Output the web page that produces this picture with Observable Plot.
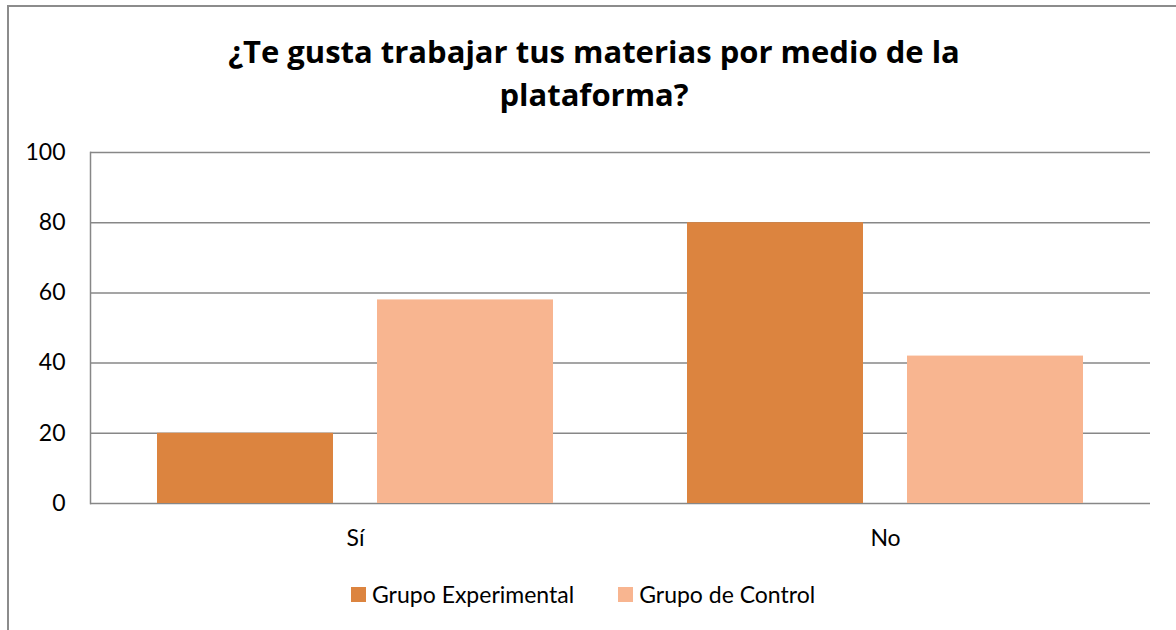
<!DOCTYPE html>
<html>
<head>
<meta charset="utf-8">
<script src="https://cdn.jsdelivr.net/npm/d3@7"></script>
<script src="https://cdn.jsdelivr.net/npm/@observablehq/plot@0.6"></script>
<style>
  html, body { margin: 0; padding: 0; background: #fff; }
  #wrap { position: relative; width: 1176px; height: 630px; overflow: hidden; font-family: Lato, "Open Sans", sans-serif; color: #000; }
  #border { position: absolute; left: 7px; top: 5px; width: 1300px; height: 800px; border-left: 2px solid #8c8c8c; border-top: 2px solid #8c8c8c; }
  #title { position: absolute; left: 0; width: 1188px; top: 30px; text-align: center; font-family: "Open Sans", sans-serif; font-weight: bold; font-size: 31px; line-height: 43px; }
  #chart { position: absolute; left: 0; top: 130px; }
  #legend { position: absolute; top: 580px; left: 351px; display: flex; align-items: center; font-size: 23px; }
  .sw { width: 15px; height: 15px; display: inline-block; margin-right: 6px; }
  .item { display: flex; align-items: center; margin-right: 44px; }
</style>
</head>
<body>
<div id="wrap">
  <div id="border"></div>
  <div id="title"></div>
  <div id="chart"></div>
  <div id="legend"></div>
</div>
<script>
const titleLines = ["¿Te gusta trabajar tus materias por medio de la", "plataforma?"];
const categories = ["Sí", "No"];
const series = ["Grupo Experimental", "Grupo de Control"];
const experimental = [20, 80];
const control = [58, 42];
const yTicks = [0, 20, 40, 60, 80, 100];
const colors = ["#DC843F", "#F8B590"];

const data = categories.flatMap((c, i) => [
  {cat: c, serie: series[0], value: experimental[i]},
  {cat: c, serie: series[1], value: control[i]}
]);

document.getElementById("title").innerHTML = titleLines.join("<br>");

const chart = Plot.plot({
  width: 1176,
  height: 440,
  marginLeft: 90,
  marginRight: 26,
  marginTop: 22,
  marginBottom: 67,
  style: {fontFamily: "Lato, 'Open Sans', sans-serif", fontSize: "23px", color: "#000", background: "transparent"},
  fx: {domain: categories, padding: 0, label: null, axis: "bottom", tickSize: 0, tickPadding: 26},
  x: {domain: series, paddingInner: 0.2, paddingOuter: 0.3, axis: null},
  y: {domain: [0, 100], ticks: yTicks, label: null, tickSize: 0, tickPadding: 25},
  color: {domain: series, range: colors},
  marks: [
    Plot.gridY(yTicks, {stroke: "#878787", strokeOpacity: 1, strokeWidth: 1.5}),
    Plot.barY(data, {fx: "cat", x: "serie", y: "value", fill: "serie"}),
    Plot.frame({anchor: "left", stroke: "#878787", strokeWidth: 1.5, facet: "super"})
  ]
});
document.getElementById("chart").appendChild(chart);

const legend = document.getElementById("legend");
series.forEach((s, i) => {
  const item = document.createElement("div");
  item.className = "item";
  const sw = document.createElement("span");
  sw.className = "sw";
  sw.style.background = colors[i];
  item.appendChild(sw);
  item.appendChild(document.createTextNode(s));
  legend.appendChild(item);
});
</script>
</body>
</html>
